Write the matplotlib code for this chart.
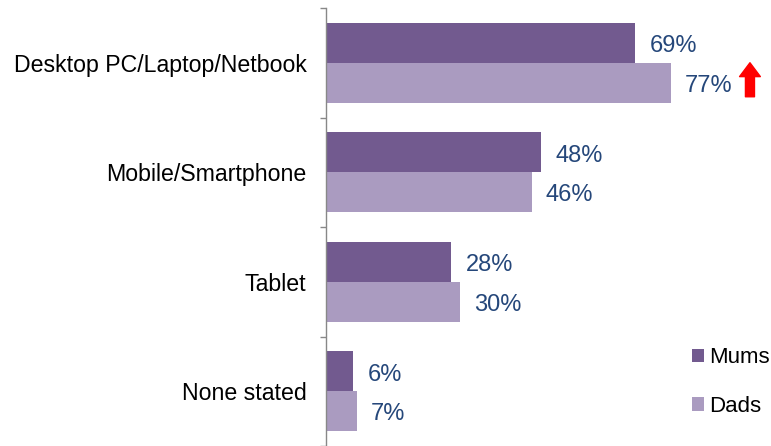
import matplotlib.pyplot as plt
import matplotlib.transforms as mtransforms
import numpy as np

plt.rcParams['font.family'] = ['Liberation Sans', 'DejaVu Sans']

categories = ['Desktop PC/Laptop/Netbook', 'Mobile/Smartphone', 'Tablet', 'None stated']
mums = [69, 48, 28, 6]
dads = [77, 46, 30, 7]

mums_color = '#725A8F'
dads_color = '#AA9BC0'
label_color = '#25477A'

fig = plt.figure(figsize=(7.71, 4.46), dpi=100)
ax = fig.add_axes([326 / 771, 0.0, 448 / 771, 1 - 8 / 446])

ind = np.arange(len(categories))
h = 0.365
ax.barh(ind - h / 2, mums, h, color=mums_color, label='Mums')
ax.barh(ind + h / 2, dads, h, color=dads_color, label='Dads')

for i in range(len(categories)):
    ax.annotate(f'{mums[i]}%', (mums[i], ind[i] - h / 2), xytext=(10.5, -2.5),
                textcoords='offset points', va='center', ha='left',
                fontsize=17, color=label_color)
    ax.annotate(f'{dads[i]}%', (dads[i], ind[i] + h / 2), xytext=(10, -2),
                textcoords='offset points', va='center', ha='left',
                fontsize=17, color=label_color)

# red "up" arrow next to the Dads desktop value
shift = mtransforms.ScaledTranslation(0.79, 0.20, fig.dpi_scale_trans)
ax.annotate('', xy=(dads[0], ind[0] + h / 2), xycoords=ax.transData + shift,
            xytext=(0, -24.5), textcoords='offset points',
            arrowprops=dict(arrowstyle='simple,head_length=10,head_width=15,tail_width=6.5',
                            color='#FF0000', shrinkA=0, shrinkB=0, mutation_scale=1))

ax.set_xlim(0, 100)
ax.set_ylim(3.5, -0.5)
ax.set_yticks(ind)
ax.set_yticklabels(categories, fontsize=16.7)
ax.set_yticks(np.arange(-0.5, 4.0, 1.0), minor=True)
ax.tick_params(axis='y', which='major', length=0, pad=14)
ax.tick_params(axis='y', which='minor', length=4.5, width=1, color='#888888')
ax.set_xticks([])
for s in ['top', 'right', 'bottom']:
    ax.spines[s].set_visible(False)
ax.spines['left'].set_color('#888888')
ax.spines['left'].set_linewidth(1)

fig.legend(loc='center left', bbox_to_anchor=(692 / 771, 1 - 382 / 446),
           frameon=False, fontsize=16, handlelength=0.55, handleheight=0.55,
           handletextpad=0.2, labelspacing=1.25, borderpad=0, borderaxespad=0)

fig.savefig('out.png', dpi=100)
